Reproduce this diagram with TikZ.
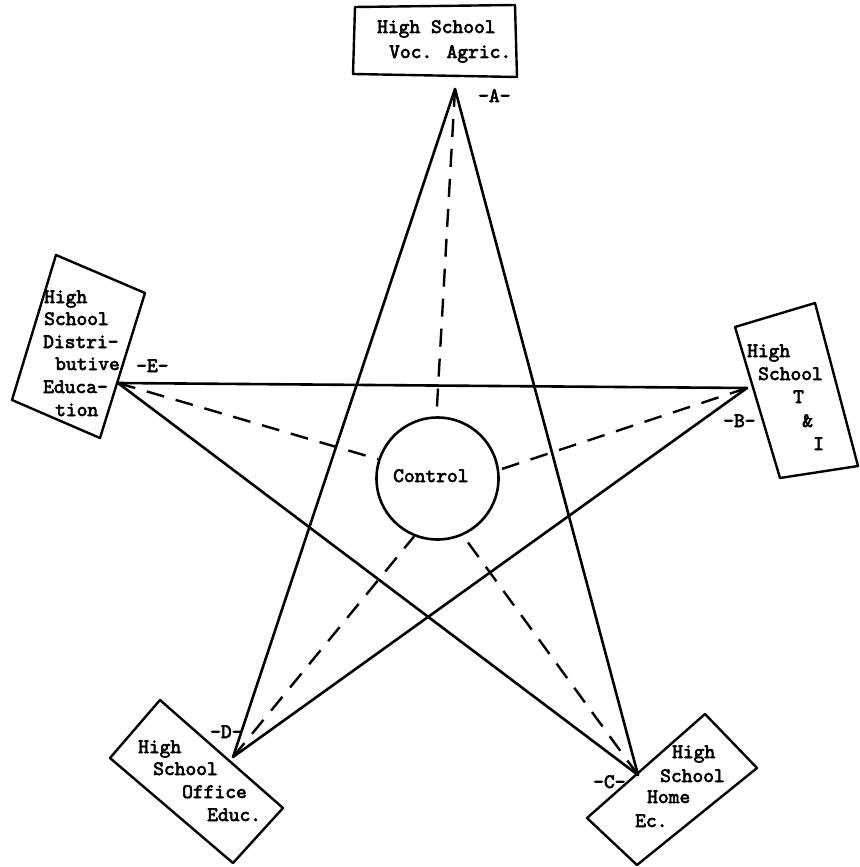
\documentclass[tikz,border=0pt]{standalone}
\usepackage{fontspec}
\newfontfamily\twfont{lmmono10-regular.otf}[FakeBold=3]
\newcommand\lbfont{\twfont\fontsize{20.5}{24}\selectfont}
\tikzset{
  lbl/.style={font=\lbfont, anchor=base west, inner sep=0pt},
  starline/.style={line width=2.6pt, line cap=round, line join=round},
  ctrlline/.style={line width=2.4pt, dash pattern=on 18pt off 12pt},
  boxline/.style={line width=2.4pt, line join=round},
}
\begin{document}
\begin{tikzpicture}[x=1pt,y=-1pt]
\useasboundingbox (0,0) rectangle (859,867);
% star vertices
\coordinate (A) at (455,89);
\coordinate (B) at (747,388);
\coordinate (C) at (638,775);
\coordinate (D) at (233,757);
\coordinate (E) at (118,383);
% control
\node[circle, draw, line width=2.6pt, minimum size=122pt, inner sep=0pt] (ctrl) at (437.5,478.5) {};
\node[lbl] (ctrltext) at (393,482) {Control};
% star
\draw[starline] (A) -- (C);
\draw[starline] (A) -- (D);
\draw[starline] (E) -- (B);
\draw[starline] (E) -- (C);
\draw[starline] (D) -- (B);
% dashed to control
\draw[ctrlline] (A) -- (ctrl.91);
\draw[ctrlline] (E) -- (ctrl.162);
\draw[ctrlline] (B) -- (ctrl.8);
\draw[ctrlline] (D) -- (ctrl.248);
\draw[ctrlline] (C) -- (ctrl.294);
% box A
\coordinate (a1) at (355,7); \coordinate (a2) at (515,5);
\coordinate (a3) at (517,77); \coordinate (a4) at (353,74);
\draw[boxline] (a1) -- (a2) -- (a3) -- (a4) -- cycle;
\node[lbl] (ta1) at (377,33) {High School};
\node[lbl] (ta2) at (389,58) {Voc. Agric.};
\node[lbl] (la) at (478,102) {-A-};
% box B
\coordinate (b1) at (735,327); \coordinate (b2) at (815,303);
\coordinate (b3) at (858,466); \coordinate (b4) at (780,478);
\draw[boxline] (b1) -- (b2) -- (b3) -- (b4) -- cycle;
\node[lbl] (tb1) at (747,357) {High};
\node[lbl] (tb2) at (758,380) {School};
\node[lbl] (tb3) at (793,403) {T};
\node[lbl] (tb4) at (802,427) {\&};
\node[lbl] (tb5) at (813,450) {I};
\node[lbl] (lb) at (723,427) {-B-};
% box C
\coordinate (c1) at (587,818); \coordinate (c2) at (705,714);
\coordinate (c3) at (757,768); \coordinate (c4) at (637,865);
\draw[boxline] (c1) -- (c2) -- (c3) -- (c4) -- cycle;
\node[lbl] (tc1) at (672,758) {High};
\node[lbl] (tc2) at (660,782) {School};
\node[lbl] (tc3) at (647,803) {Home};
\node[lbl] (tc4) at (635,827) {Ec.};
\node[lbl] (lc) at (593,788) {-C-};
% box D
\coordinate (d1) at (160,700); \coordinate (d2) at (283,808);
\coordinate (d3) at (233,863); \coordinate (d4) at (110,758);
\draw[boxline] (d1) -- (d2) -- (d3) -- (d4) -- cycle;
\node[lbl] (td1) at (138,753) {High};
\node[lbl] (td2) at (153,775) {School};
\node[lbl] (td3) at (182,798) {Office};
\node[lbl] (td4) at (207,821) {Educ.};
\node[lbl] (ld) at (210,738) {-D-};
% box E
\coordinate (e1) at (56,255); \coordinate (e2) at (145,293);
\coordinate (e3) at (100,438); \coordinate (e4) at (12,400);
\draw[boxline] (e1) -- (e2) -- (e3) -- (e4) -- cycle;
\node[lbl] (te1) at (44,303) {High};
\node[lbl] (te2) at (44,325) {School};
\node[lbl] (te3) at (43,348) {Distri-};
\node[lbl] (te4) at (55,370) {butive};
\node[lbl] (te5) at (43,393) {Educa-};
\node[lbl] (te6) at (55,416) {tion};
\node[lbl] (le) at (136,372) {-E-};
\end{tikzpicture}
\end{document}
